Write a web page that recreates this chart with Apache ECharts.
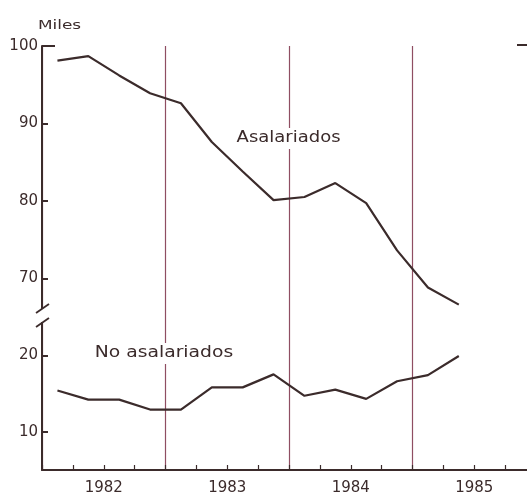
<!DOCTYPE html>
<html>
<head>
<meta charset="utf-8">
<script src="https://cdn.jsdelivr.net/npm/echarts@6/dist/echarts.min.js"></script>
<style>
  html, body { margin: 0; padding: 0; background: #fff; }
  #chart { width: 527px; height: 499px; }
</style>
</head>
<body>
<div id="chart"></div>
<script>
// trimestres 1982 - 1985
const quarters = [
  '1982 T1', '1982 T2', '1982 T3', '1982 T4',
  '1983 T1', '1983 T2', '1983 T3', '1983 T4',
  '1984 T1', '1984 T2', '1984 T3', '1984 T4',
  '1985 T1', '1985 T2', '1985 T3', '1985 T4'
]
// miles de personas
const asalariados = [98.1, 98.7, 96.2, 93.9, 92.6, 87.6, 83.8, 80.1, 80.5, 82.3, 79.7, 73.6, 68.8, 66.6]
const noAsalariados = [15.4, 14.2, 14.2, 12.9, 12.9, 15.8, 15.8, 17.5, 14.7, 15.5, 14.3, 16.6, 17.4, 19.9]
const upperTicks = [70, 80, 90, 100]
const lowerTicks = [10, 20]

const ink = '#3b2b2b'
const red = '#8f4e62'
const font = 'DejaVu Sans'

const chart = echarts.init(document.getElementById('chart'))

const xBase = {
  type: 'category',
  data: quarters,
  boundaryGap: true,
  splitLine: {
    show: true,
    interval: (i) => i % 4 === 0,
    lineStyle: { color: red, width: 1.2 }
  }
}

chart.setOption({
  animation: false,
  textStyle: { fontFamily: font, color: ink },
  grid: [
    // el eje x sigue mas alla del borde derecho de la imagen
    { left: 42, width: 494, top: 46, height: 271, outerBoundsMode: 'none' },
    { left: 42, width: 494, top: 317, height: 153, outerBoundsMode: 'none' }
  ],
  xAxis: [
    Object.assign({}, xBase, {
      gridIndex: 0,
      axisLine: { show: false },
      axisTick: { show: false },
      axisLabel: { show: false }
    }),
    Object.assign({}, xBase, {
      gridIndex: 1,
      axisLine: { show: true, onZero: false, lineStyle: { color: ink, width: 2 } },
      axisTick: { show: true, inside: true, length: 5, interval: 0, lineStyle: { color: ink, width: 1.2 } },
      axisLabel: {
        interval: 0,
        margin: 11,
        fontSize: 15,
        color: ink,
        padding: [0, 0, 0, 31],
        formatter: (v, i) => (i % 4 === 1 ? v.slice(0, 4) : '')
      }
    })
  ],
  yAxis: [
    {
      gridIndex: 0,
      type: 'value',
      min: 65,
      max: 100,
      axisLine: { show: true, lineStyle: { color: ink, width: 2 } },
      axisTick: { show: true, inside: true, length: 6, customValues: upperTicks, lineStyle: { color: ink, width: 2 } },
      axisLabel: { customValues: upperTicks, fontSize: 15, color: ink, margin: 4 },
      splitLine: { show: false }
    },
    {
      gridIndex: 1,
      type: 'value',
      min: 5,
      max: 25,
      axisLine: { show: true, lineStyle: { color: ink, width: 2 } },
      axisTick: { show: true, inside: true, length: 6, customValues: lowerTicks, lineStyle: { color: ink, width: 2 } },
      axisLabel: { customValues: lowerTicks, fontSize: 15, color: ink, margin: 4 },
      splitLine: { show: false }
    }
  ],
  series: [
    {
      name: 'Asalariados',
      type: 'line',
      xAxisIndex: 0,
      yAxisIndex: 0,
      data: asalariados,
      symbol: 'none',
      lineStyle: { color: ink, width: 2.2 },
      z: 5
    },
    {
      name: 'No asalariados',
      type: 'line',
      xAxisIndex: 1,
      yAxisIndex: 1,
      data: noAsalariados,
      symbol: 'none',
      lineStyle: { color: ink, width: 2.2 },
      z: 5
    }
  ],
  graphic: [
    // unidad
    {
      type: 'text', x: 38, y: 19, scaleX: 1.3, z: 10,
      style: { text: 'Miles', font: '13px "DejaVu Sans"', fill: ink }
    },
    // rotulos de las series
    {
      type: 'text', x: 233, y: 128, scaleX: 1.2, z: 10,
      style: { text: 'Asalariados', font: '15px "DejaVu Sans"', fill: ink, backgroundColor: '#fff', padding: [3, 3] }
    },
    {
      type: 'text', x: 91, y: 343, scaleX: 1.25, z: 10,
      style: { text: 'No asalariados', font: '15px "DejaVu Sans"', fill: ink, backgroundColor: '#fff', padding: [3, 3] }
    },
    // remate superior del eje
    { type: 'line', z: 10, shape: { x1: 42, y1: 46, x2: 55, y2: 46 }, style: { stroke: ink, lineWidth: 2 } },
    { type: 'line', z: 10, shape: { x1: 517, y1: 45, x2: 527, y2: 45 }, style: { stroke: ink, lineWidth: 2 } },
    // corte del eje
    { type: 'rect', z: 10, shape: { x: 38, y: 309, width: 8, height: 13 }, style: { fill: '#fff' } },
    { type: 'line', z: 11, shape: { x1: 36, y1: 313, x2: 49, y2: 304 }, style: { stroke: ink, lineWidth: 1.8 } },
    { type: 'line', z: 11, shape: { x1: 36, y1: 327, x2: 49, y2: 318 }, style: { stroke: ink, lineWidth: 1.8 } }
  ]
})
</script>
</body>
</html>
